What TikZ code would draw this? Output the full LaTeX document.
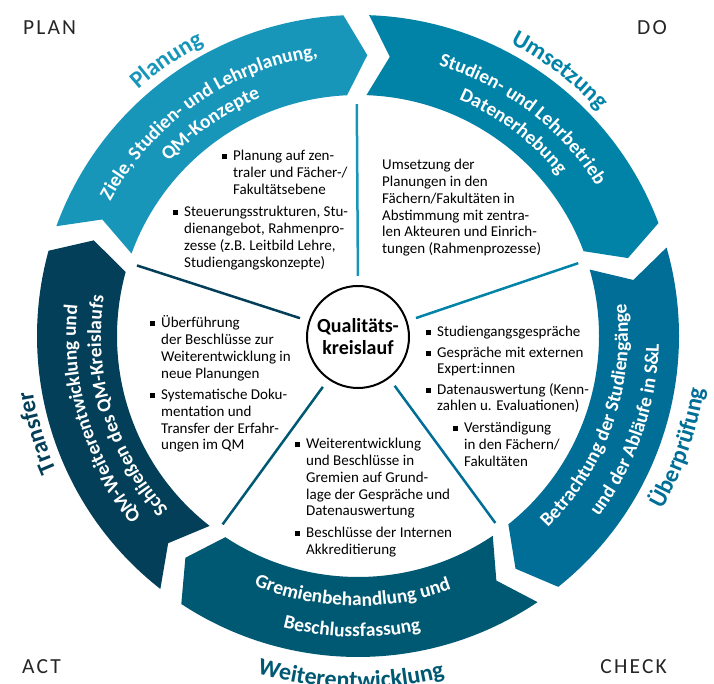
\documentclass[tikz,border=0pt]{standalone}
\usepackage{fontspec}
\setmainfont{Carlito}
\newfontfamily\cornerfont[LetterSpace=10]{Carlito}
\usetikzlibrary{decorations.text,positioning}
\definecolor{colone}{RGB}{24,150,186}
\definecolor{coltwo}{RGB}{0,131,167}
\definecolor{colthree}{RGB}{0,110,150}
\definecolor{colfour}{RGB}{0,89,115}
\definecolor{colfive}{RGB}{3,63,88}
\newcommand{\bandfont}{\fontsize{19.5}{19.5}\selectfont\bfseries\color{white}}
\newcommand{\labfont}{\fontsize{24}{24}\selectfont\bfseries}
\newcommand{\bul}{\rule[1.5pt]{5pt}{5pt}}
\tikzset{
  % TEXT IN THE RING
  bandText/.style={
    decorate,
    decoration={text along path, text align=center, text={|\bandfont|#1}}
  },
  % PHASE NAMES OUTSIDE THE RING
  bandLabel/.style 2 args={
    decorate,
    decoration={text along path, text align=center, text={|\labfont\color{#1}|#2}}
  },
  % TEXT BLOCKS
  frameText/.style={
    inner sep=0pt,
    anchor=base west,
    text=black,
    font=\fontsize{15}{16.7}\selectfont
  },
  % PLAN DO CHECK ACT
  frameCorner/.style={
    inner sep=0pt,
    text=black!85,
    font=\cornerfont\fontsize{21.5}{21.5}\selectfont
  },
  % CENTRE
  frameCentre/.style={
    circle,
    draw=black,
    line width=2pt,
    fill=white,
    minimum size=102pt,
    align=center,
    font=\fontsize{20}{22}\selectfont\bfseries
  },
  % SPOKES
  lineSpoke/.style={
    line width=2.5pt, shorten <=9pt
  }
}

\begin{document}
\begin{tikzpicture}[x=1pt,y=1pt]

\useasboundingbox (-358,-348) rectangle (356,336);

% Ring parts
\fill [colone] (160:321) arc [start angle=160, end angle=92.6, radius=321] -- (88.1:281) -- (92.6:241) arc [start angle=92.6, end angle=160, radius=241] -- (155.5:281) -- cycle;
\fill [coltwo] (88:321) arc [start angle=88, end angle=20.6, radius=321] -- (16.1:281) -- (20.6:241) arc [start angle=20.6, end angle=88, radius=241] -- (83.5:281) -- cycle;
\fill [colthree] (16:321) arc [start angle=16, end angle=-51.4, radius=321] -- (-55.9:281) -- (-51.4:241) arc [start angle=-51.4, end angle=16, radius=241] -- (11.5:281) -- cycle;
\fill [colfour] (-56:321) arc [start angle=-56, end angle=-123.4, radius=321] -- (-127.9:281) -- (-123.4:241) arc [start angle=-123.4, end angle=-56, radius=241] -- (-60.5:281) -- cycle;
\fill [colfive] (-128:321) arc [start angle=-128, end angle=-195.4, radius=321] -- (-199.9:281) -- (-195.4:241) arc [start angle=-195.4, end angle=-128, radius=241] -- (-132.5:281) -- cycle;

% Texts in the ring
\path [bandText={Ziele, Studien- und Lehrplanung,}] (164.8:282) arc [start angle=164.8, end angle=84.8, radius=282];
\path [bandText={QM-Konzepte}] (164.8:257) arc [start angle=164.8, end angle=84.8, radius=257];
\path [bandText={Studien- und Lehrbetrieb}] (92.8:282) arc [start angle=92.8, end angle=12.8, radius=282];
\path [bandText={Datenerhebung}] (92.8:257) arc [start angle=92.8, end angle=12.8, radius=257];
\path [bandText={Betrachtung der Studiengänge}] (-59.2:270) arc [start angle=-59.2, end angle=20.8, radius=270];
\path [bandText={und der Abläufe in S{\&}L}] (-59.2:301) arc [start angle=-59.2, end angle=20.8, radius=301];
\path [bandText={Gremienbehandlung und}] (-131.2:270) arc [start angle=-131.2, end angle=-51.2, radius=270];
\path [bandText={Beschlussfassung}] (-131.2:301) arc [start angle=-131.2, end angle=-51.2, radius=301];
\path [bandText={QM-Weiterentwicklung und}] (236.8:282) arc [start angle=236.8, end angle=156.8, radius=282];
\path [bandText={Schließen des QM-Kreislaufs}] (236.8:257) arc [start angle=236.8, end angle=156.8, radius=257];

% Phase names
\path [bandLabel={colone}{Planung}] (164.8:330) arc [start angle=164.8, end angle=84.8, radius=330];
\path [bandLabel={coltwo}{Umsetzung}] (92.8:330) arc [start angle=92.8, end angle=12.8, radius=330];
\path [bandLabel={colthree}{Überprüfung}] (-59.2:350) arc [start angle=-59.2, end angle=20.8, radius=350];
\path [bandLabel={colfour}{Weiterentwicklung}] (-131.2:352) arc [start angle=-131.2, end angle=-51.2, radius=352];
\path [bandLabel={colfive}{Transfer}] (236.8:330) arc [start angle=236.8, end angle=156.8, radius=330];

% Centre
\node [frameCentre] (qm) at (0,-1) {Qualitäts-\\kreislauf};

% Spokes
\coordinate (spokePlan) at (90.3:232);
\coordinate (spokeDo) at (18.3:232);
\coordinate (spokeCheck) at (-53.7:232);
\coordinate (spokeAct) at (-125.7:232);
\coordinate (spokeTransfer) at (162.3:232);
\path [lineSpoke, draw=colone] (qm.90.3) -- (spokePlan);
\path [lineSpoke, draw=coltwo] (qm.18.3) -- (spokeDo);
\path [lineSpoke, draw=colthree] (qm.-53.7) -- (spokeCheck);
\path [lineSpoke, draw=colfour] (qm.-125.7) -- (spokeAct);
\path [lineSpoke, draw=colfive] (qm.162.3) -- (spokeTransfer);

% Text blocks
\node [frameText] (planA) at (-136,175) {\begin{tabular}[t]{@{}l@{\hspace{6pt}}l@{}}
\bul & Planung auf zen-\\ & traler und Fächer-/\\ & Fakultätsebene
\end{tabular}};
\node [frameText] (planB) at (-185,119) {\begin{tabular}[t]{@{}l@{\hspace{6pt}}l@{}}
\bul & Steuerungsstrukturen, Stu-\\ & dienangebot, Rahmenpro-\\ & zesse (z.B. Leitbild Lehre,\\ & Studiengangskonzepte)
\end{tabular}};
\node [frameText] (doText) at (24,166) {\begin{tabular}[t]{@{}l@{}}
Umsetzung der\\ Planungen in den\\ Fächern/Fakultäten in\\ Abstimmung mit zentra-\\ len Akteuren und Einrich-\\ tungen (Rahmenprozesse)
\end{tabular}};
\node [frameText] (checkA) at (68,-1) {\begin{tabular}[t]{@{}l@{\hspace{6pt}}l@{}}
\bul & Studiengangsgespräche\\[3.5pt]
\bul & Gespräche mit externen\\ & Expert:innen\\[3.5pt]
\bul & Datenauswertung (Kenn-\\ & zahlen u. Evaluationen)
\end{tabular}};
\node [frameText] (checkB) at (95,-97) {\begin{tabular}[t]{@{}l@{\hspace{6pt}}l@{}}
\bul & Verständigung\\ & in den Fächern/\\ & Fakultäten
\end{tabular}};
\node [frameText] (actText) at (-63,-113) {\begin{tabular}[t]{@{}l@{\hspace{6pt}}l@{}}
\bul & Weiterentwicklung\\ & und Beschlüsse in\\ & Gremien auf Grund-\\ & lage der Gespräche und\\ & Datenauswertung\\[5pt]
\bul & Beschlüsse der Internen\\ & Akkreditierung
\end{tabular}};
\node [frameText] (transText) at (-208,8) {\begin{tabular}[t]{@{}l@{\hspace{6pt}}l@{}}
\bul & Überführung\\ & der Beschlüsse zur\\ & Weiterentwicklung in\\ & neue Planungen\\[5pt]
\bul & Systematische Doku-\\ & mentation und\\ & Transfer der Erfahr-\\ & ungen im QM
\end{tabular}};

% Corners
\node [frameCorner, anchor=base west] (cornerPlan) at (-335,301) {PLAN};
\node [frameCorner, anchor=base east] (cornerDo) at (309,301) {DO};
\node [frameCorner, anchor=base west] (cornerAct) at (-336,-337) {ACT};
\node [frameCorner, anchor=base east] (cornerCheck) at (309,-337) {CHECK};

\end{tikzpicture}
\end{document}
